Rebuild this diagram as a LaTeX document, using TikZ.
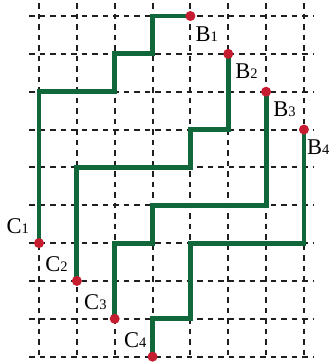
\documentclass[tikz,border=0pt]{standalone}
\usepackage{fontspec}
\setmainfont{Liberation Serif}
\definecolor{pathgreen}{RGB}{16,104,58}
\definecolor{dotred}{RGB}{198,28,48}
\newcommand\dg[1]{{\fontsize{14.5pt}{14.5pt}\selectfont #1}}
\begin{document}
\begin{tikzpicture}[x=1pt,y=-1pt,
  gridline/.style={dash pattern=on 5.5pt off 5pt, line width=2pt, black!88},
  route/.style={pathgreen, line width=4.8pt},
  dot/.style={circle, fill=dotred, inner sep=0pt, minimum size=10pt},
  lab/.style={font=\fontsize{22.5pt}{22.5pt}\selectfont, inner sep=0pt}]
\useasboundingbox (0,0) rectangle (335,362);
\foreach \i in {0,...,7}{
  \foreach \j in {0,...,9}{
    \coordinate (g\i-\j) at ({39+37.85*\i},{16+37.85*\j});
  }
}
% dashed grid
\foreach \i in {0,...,7}
  \draw[gridline] ({39+37.85*\i},3) -- ({39+37.85*\i},358);
\foreach \j in {0,...,9}
  \draw[gridline] (29,{16+37.85*\j}) -- (313,{16+37.85*\j});
% routes
\draw[route] (g4-0) -- (g3-0) -- (g3-1) -- (g2-1) -- (g2-2) -- (g0-2) -- (g0-6);
\draw[route] (g5-1) -- (g5-3) -- (g4-3) -- (g4-4) -- (g1-4) -- (g1-7);
\draw[route] (g6-2) -- (g6-5) -- (g3-5) -- (g3-6) -- (g2-6) -- (g2-8);
\draw[route] (g7-3) -- (g7-6) -- (g4-6) -- (g4-8) -- (g3-8) -- (g3-9);
% dots
\node[dot] (B1) at (g4-0) {};
\node[dot] (B2) at (g5-1) {};
\node[dot] (B3) at (g6-2) {};
\node[dot] (B4) at (g7-3) {};
\node[dot] (C1) at (g0-6) {};
\node[dot] (C2) at (g1-7) {};
\node[dot] (C3) at (g2-8) {};
\node[dot] (C4) at (g3-9) {};
% labels
\node[lab, anchor=base west] (tB1) at ([shift={(5,25)}]B1.center) {B\dg{1}};
\node[lab, anchor=base west] (tB2) at ([shift={(7,25)}]B2.center) {B\dg{2}};
\node[lab, anchor=base west] (tB3) at ([shift={(7,25)}]B3.center) {B\dg{3}};
\node[lab, anchor=base west] (tB4) at ([shift={(3,25)}]B4.center) {B\dg{4}};
\node[lab, anchor=base east] (tC1) at ([shift={(-10,-10)}]C1.center) {C\dg{1}};
\node[lab, anchor=base east] (tC2) at ([shift={(-9,-9)}]C2.center) {C\dg{2}};
\node[lab, anchor=base east] (tC3) at ([shift={(-8,-9)}]C3.center) {C\dg{3}};
\node[lab, anchor=base east] (tC4) at ([shift={(-6,-9)}]C4.center) {C\dg{4}};
\end{tikzpicture}
\end{document}
